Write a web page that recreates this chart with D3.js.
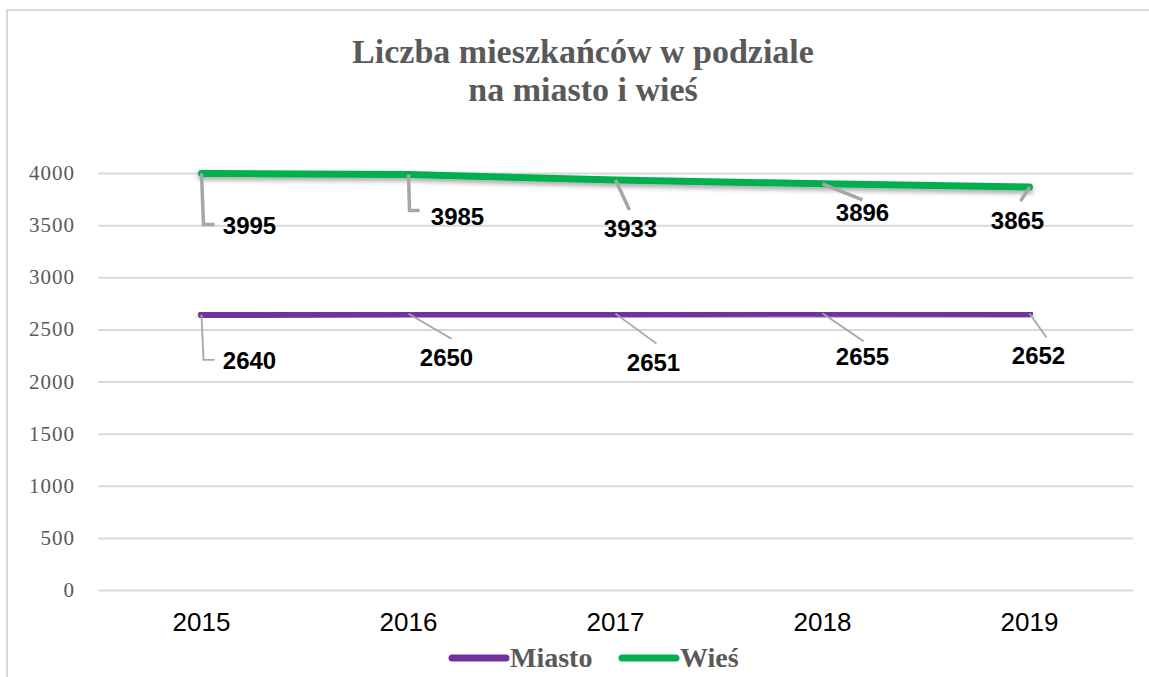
<!DOCTYPE html>
<html>
<head>
<meta charset="utf-8">
<script src="https://cdn.jsdelivr.net/npm/d3@7"></script>
<style>
  body { margin: 0; background: #fff; }
  svg { display: block; }
  .grid line { stroke: #D9D9D9; stroke-width: 2; }
  .grid .domain { display: none; }
</style>
</head>
<body>
<svg id="chart"></svg>
<script>
// data
const years = ["2015", "2016", "2017", "2018", "2019"];
const miasto = [2640, 2650, 2651, 2655, 2652];
const wies = [3995, 3985, 3933, 3896, 3865];
const yTicks = [0, 500, 1000, 1500, 2000, 2500, 3000, 3500, 4000];
const titleLines = ["Liczba mieszkańców w podziale", "na miasto i wieś"];

// label layout (offsets from the point, in px)
const wiesLabelOff = [[48, 51], [49, 41], [15, 48], [40, 28], [-12, 33]];
const wiesLeader = [[[2, 51], [13, 51]], [[1, 36], [11, 36]], [[14, 30]], [[40, 16]], [[-9, 14]]];
const miastoLabelOff = [[48, 45], [38, 43], [38, 48], [40, 43], [9, 41]];
const miastoLeader = [[[2, 45], [13, 45]], [[43, 25]], [[41, 30]], [[41, 28]], [[17, 24]]];

const W = 1149, H = 677;
const margin = {top: 173, right: 16, bottom: 87, left: 98};
const width = W - margin.left - margin.right,
      height = H - margin.top - margin.bottom;

const svg = d3.select("#chart").attr("width", W).attr("height", H);

const defs = svg.append("defs");
const f = defs.append("filter").attr("id", "shadow")
  .attr("x", "-10%").attr("y", "-50%").attr("width", "120%").attr("height", "300%");
f.append("feDropShadow").attr("dx", 0).attr("dy", 3).attr("stdDeviation", 2.5)
  .attr("flood-color", "#000").attr("flood-opacity", 0.35);

// chart frame
svg.append("rect")
  .attr("x", 7).attr("y", 10).attr("width", 1160).attr("height", 700)
  .attr("fill", "#fff").attr("stroke", "#D9D9D9").attr("stroke-width", 2);

// title
svg.append("text")
  .attr("x", 583).attr("y", 63)
  .attr("text-anchor", "middle")
  .attr("font-family", "Liberation Serif, serif")
  .attr("font-weight", "bold")
  .attr("font-size", "34px")
  .attr("fill", "#595959")
  .selectAll("tspan").data(titleLines).enter()
  .append("tspan")
    .attr("x", 583)
    .attr("dy", (d, i) => i ? 38 : 0)
    .text(d => d);

const g = svg.append("g")
  .attr("transform", "translate(" + margin.left + "," + margin.top + ")");

const xScale = d3.scaleBand().domain(years).range([0, width]);
const yScale = d3.scaleLinear().domain([0, 4000]).range([height, 0]);

// gridlines
g.append("g")
  .attr("class", "grid")
  .call(d3.axisLeft(yScale).tickValues(yTicks).tickSize(-width).tickFormat(""));

// y labels
g.selectAll("text.ylab")
  .data(yTicks).enter()
  .append("text")
    .attr("class", "ylab")
    .attr("x", -23)
    .attr("y", d => yScale(d) + 7)
    .attr("text-anchor", "end")
    .attr("font-family", "Liberation Serif, serif")
    .attr("font-size", "21px")
    .attr("letter-spacing", "1px")
    .attr("fill", "#595959")
    .text(d => d);

// x labels
g.selectAll("text.xlab")
  .data(years).enter()
  .append("text")
    .attr("class", "xlab")
    .attr("x", d => xScale(d) + xScale.bandwidth() / 2)
    .attr("y", height + 41)
    .attr("text-anchor", "middle")
    .attr("font-family", "Liberation Sans, Arial, sans-serif")
    .attr("font-size", "26px")
    .attr("fill", "#000")
    .text(d => d);

const cx = d => xScale(d) + xScale.bandwidth() / 2;

const line = d3.line()
  .x(d => cx(d.year))
  .y(d => yScale(d.value));

const series = [
  {name: "Miasto", color: "#7030A0", values: miasto, off: miastoLabelOff, leader: miastoLeader, lw: 1.8},
  {name: "Wieś", color: "#00B050", values: wies, off: wiesLabelOff, leader: wiesLeader, lw: 3.5}
];

series.forEach(s => {
  const pts = years.map((y, i) => ({year: y, value: s.values[i]}));

  g.append("path")
    .datum(pts)
    .attr("d", line)
    .attr("fill", "none")
    .attr("stroke", s.color)
    .attr("stroke-width", 7)
    .attr("stroke-linecap", "round")
    .attr("stroke-linejoin", "round")
    .attr("filter", "url(#shadow)");
});

series.forEach(s => {
  const pts = years.map((y, i) => ({year: y, value: s.values[i]}));

  // leader lines
  g.selectAll(null)
    .data(pts).enter()
    .append("polyline")
      .attr("points", (d, i) => {
        const px = cx(d.year), py = yScale(d.value);
        const p = [[px, py]].concat(s.leader[i].map(o => [px + o[0], py + o[1]]));
        return p.map(q => q.join(",")).join(" ");
      })
      .attr("fill", "none")
      .attr("stroke", "#A6A6A6")
      .attr("stroke-width", s.lw);

  // data labels
  g.selectAll(null)
    .data(pts).enter()
    .append("text")
      .attr("x", (d, i) => cx(d.year) + s.off[i][0])
      .attr("y", (d, i) => yScale(d.value) + s.off[i][1] + 9)
      .attr("text-anchor", "middle")
      .attr("font-family", "Liberation Sans, Arial, sans-serif")
      .attr("font-weight", "bold")
      .attr("font-size", "24px")
      .attr("fill", "#000")
      .text(d => d.value);
});

// legend
const legend = svg.append("g")
  .attr("font-family", "Liberation Serif, serif")
  .attr("font-weight", "bold")
  .attr("font-size", "28px")
  .attr("fill", "#595959");

const legX = [452, 622];
series.forEach((s, i) => {
  legend.append("line")
    .attr("x1", legX[i]).attr("x2", legX[i] + 54)
    .attr("y1", 658).attr("y2", 658)
    .attr("stroke", s.color)
    .attr("stroke-width", 7)
    .attr("stroke-linecap", "round");
  legend.append("text")
    .attr("x", legX[i] + 58)
    .attr("y", 667)
    .text(s.name);
});
</script>
</body>
</html>
